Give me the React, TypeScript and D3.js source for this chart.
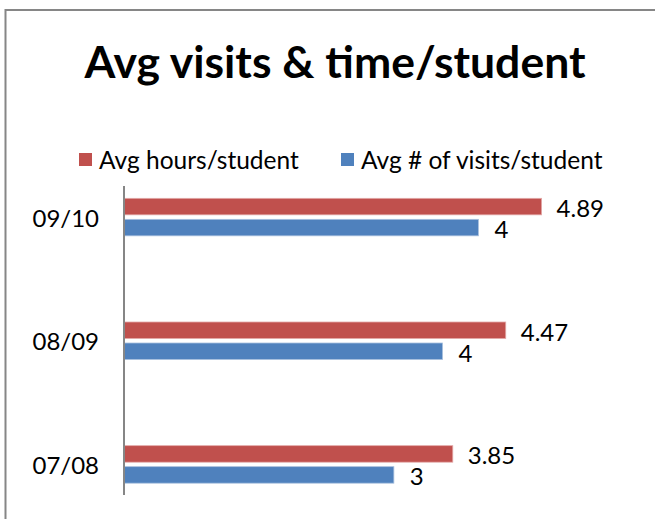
import React from "react";
import * as d3 from "d3";

const categories = ["09/10", "08/09", "07/08"];
const seriesNames = ["Avg hours/student", "Avg # of visits/student"];
const hoursPerStudent = [4.89, 4.47, 3.85];
const visitsPerStudent = [4.15, 3.73, 3.16];
const hoursLabels = ["4.89", "4.47", "3.85"];
const visitsLabels = ["4", "4", "3"];
const colors = ["#C0504D", "#4F81BD"];
const titleText = "Avg visits & time/student";

const W = 655;
const H = 519;
const FONT = "Lato, 'Open Sans', sans-serif";

export default function App() {
  const x = d3.scaleLinear().domain([0, 5]).range([124, 551]);
  const y = d3.scaleBand<string>().domain(categories).range([155.25, 526.25]);
  const sub = d3
    .scaleBand<string>()
    .domain(["hours", "visits"])
    .range([0, 37.5])
    .paddingInner(0.214);
  const rows = categories.map((c, i) => ({
    c,
    hours: hoursPerStudent[i],
    visits: visitsPerStudent[i],
    hl: hoursLabels[i],
    vl: visitsLabels[i],
  }));
  const bw = sub.bandwidth();
  const center = (c: string) => (y(c) as number) + y.bandwidth() / 2;

  return (
    <svg
      width={W}
      height={H}
      style={{ position: "absolute", left: 0, top: 0, background: "#fff" }}
      fontFamily={FONT}
    >
      <rect x={0} y={0} width={W} height={H} fill="#fff" />
      {/* chart frame */}
      <rect x={5.5} y={10} width={W + 10} height={H + 10} fill="none" stroke="#868686" strokeWidth={2} />
      {/* title */}
      <text x={335} y={78} textAnchor="middle" fontSize={44.5} fontWeight={700} fill="#000">
        {titleText}
      </text>
      {/* legend */}
      <g>
        <rect x={79} y={153} width={13} height={13} fill={colors[0]} />
        <text x={99} y={159.5} dominantBaseline="central" fontSize={24.5} fill="#000">
          {seriesNames[0]}
        </text>
        <rect x={341} y={153} width={13} height={13} fill={colors[1]} />
        <text x={361} y={159.5} dominantBaseline="central" fontSize={24.5} fill="#000">
          {seriesNames[1]}
        </text>
      </g>
      {/* category labels */}
      {rows.map((r) => (
        <text
          key={"cat" + r.c}
          x={99}
          y={center(r.c)}
          textAnchor="end"
          dominantBaseline="central"
          fontSize={24}
          fill="#000"
        >
          {r.c}
        </text>
      ))}
      {/* bars */}
      {rows.map((r) => {
        const top = center(r.c) - 18.75;
        const yh = top + (sub("hours") as number);
        const yv = top + (sub("visits") as number);
        return (
          <g key={"bars" + r.c}>
            <rect
              x={x(0)}
              y={yh}
              width={x(r.hours) - x(0)}
              height={bw}
              fill={colors[0]}
              stroke="#e3a9a8"
              strokeWidth={0.8}
            />
            <rect
              x={x(0)}
              y={yv}
              width={x(r.visits) - x(0)}
              height={bw}
              fill={colors[1]}
              stroke="#a9c0de"
              strokeWidth={0.8}
            />
            <text
              x={x(r.hours) + 15}
              y={yh + bw / 2 + 1}
              dominantBaseline="central"
              fontSize={24}
              fill="#000"
            >
              {r.hl}
            </text>
            <text
              x={x(r.visits) + 16}
              y={yv + bw / 2 + 1}
              dominantBaseline="central"
              fontSize={24}
              fill="#000"
            >
              {r.vl}
            </text>
          </g>
        );
      })}
      {/* category axis */}
      <line x1={x(0)} x2={x(0)} y1={186} y2={495} stroke="#868686" strokeWidth={2} />
    </svg>
  );
}
